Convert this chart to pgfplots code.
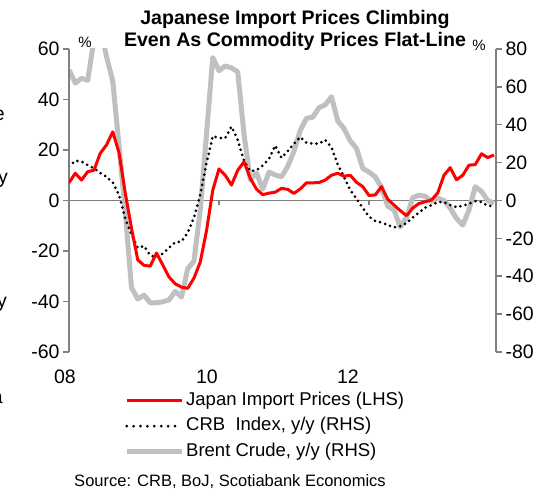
\documentclass[border=0pt]{standalone}
\usepackage{pgfplots}
\usepackage{pgfplotstable}
\pgfplotsset{compat=1.18}
\usepackage{fontspec}
\setmainfont{Liberation Sans}
\definecolor{brentgray}{RGB}{192,192,192}
\definecolor{axgray}{RGB}{128,128,128}

\pgfplotstableread{
m jip crb brent
0 7 18 69
1 10.8 21 62
2 8.1 20.5 64.5
3 11.4 18.7 63.5
4 12 17 85
5 18.7 14.5 92
6 22 12.5 76
7 27.2 9.5 63
8 19 3 29
9 3 -9.5 -6
10 -11 -18 -46
11 -23.5 -25 -52
12 -25.7 -24 -50
13 -26 -29 -54
14 -20.8 -30 -54
15 -25.5 -28 -53.5
16 -30.3 -25 -52.5
17 -33 -22 -48
18 -34.3 -21.7 -51
19 -34.8 -17 -36
20 -30.7 -9 -32
21 -24.4 3 -5
22 -12 19.6 35
23 4 34 75.5
24 12.5 33 68.5
25 10 33 71
26 6.1 39 70
27 12 32 68
28 15.3 21 35
29 8.8 15.5 11
30 4.5 16 14.5
31 2.3 18.5 6
32 2.9 22 15
33 3.3 29 13.5
34 4.8 22.5 12.5
35 4.4 26 18
36 2.8 30 26
37 4.6 33.5 37
38 7 30.5 43.4
39 7 30 44
40 7.1 30 49
41 8.1 32 50.5
42 10 28 54.8
43 10.8 19 42
44 9.6 12.5 38
45 10 5.5 31.5
46 7.2 1 27.5
47 5.5 -4 17
48 2 -8.5 15
49 2.2 -10.8 12.5
50 5.5 -11.6 7
51 0.5 -13 -3
52 -1.8 -14.2 -5
53 -4 -13.5 -14
54 -6 -12 -9
55 -3 -9 1.5
56 -1.2 -6.3 2.8
57 -0.5 -3.8 2.2
58 0.2 -2.5 -0.5
59 3 -0.8 1.2
60 10 -0.8 0
61 13 -2.5 -4
62 8.2 -3.5 -9.5
63 10 -2.8 -13
64 14 -1.7 -5
65 14.2 -0.3 7.3
66 18.5 -0.8 4.8
67 17 -2.8 0
68 18 -3 -1.5
}\data

\pgfplotsset{
  commonax/.style={
    at={(0pt,0pt)}, anchor=south west,
    scale only axis, width=427pt, height=303pt,
    xmin=0, xmax=68.32,
    axis line style={axgray, line width=1.5pt},
    ytick style={axgray, line width=1.5pt},
    tick align=outside, major tick length=6pt,
    tick label style={font=\fontsize{19.5}{22}\selectfont},
    /pgf/number format/assume math mode=true,
  }
}

\begin{document}
\begin{tikzpicture}
\useasboundingbox (-69pt,-140pt) rectangle (486pt,352pt);

% right axis (commodities)
\begin{axis}[commonax,
  ymin=-80, ymax=80,
  axis x line=none, axis y line*=right,
  ytick={-80,-60,...,80},
]
\draw[axgray, line width=1.5pt] (axis cs:0,0) -- (axis cs:68.32,0);
\draw[axgray, line width=1.2pt] (axis cs:24,0) -- ++(0pt,-5pt);
\draw[axgray, line width=1.2pt] (axis cs:48,0) -- ++(0pt,-5pt);
\addplot[brentgray, line width=5pt, line join=round] table[x=m,y=brent]{\data};
\addplot[black, line width=3pt, line cap=round, dash pattern=on 0pt off 5.3pt] table[x=m,y=crb]{\data};
\end{axis}

% left axis (Japan import prices)
\begin{axis}[commonax,
  ymin=-60, ymax=60,
  axis y line*=left, axis x line*=bottom,
  x axis line style={draw=none},
  xtick={0,22.08,44.64}, xticklabels={{\kern-8pt 08},10,12},
  xtick style={draw=none},
  xticklabel style={yshift=-8pt},
  ytick={-60,-40,...,60},
  legend image code/.code={\draw[#1] (0pt,0pt) -- (55pt,0pt);},
  legend style={at={(55pt,-40pt)}, anchor=north west, draw=none, fill=none,
    inner sep=0pt, row sep=8.5pt, column sep=2pt,
    font=\fontsize{18.5}{22}\selectfont,
    nodes={inner sep=0pt, text height=13pt, text depth=4pt},
    cells={anchor=west}},
]
\addplot[red, line width=3pt, line join=round] table[x=m,y=jip]{\data};
\addlegendentry{Japan Import Prices (LHS)}
\addlegendimage{black, line width=3pt, line cap=round, dash pattern=on 0pt off 6.9pt}
\addlegendentry{CRB\ \ Index, y/y (RHS)}
\addlegendimage{brentgray, line width=5pt}
\addlegendentry{Brent Crude, y/y (RHS)}
\end{axis}

\node[font=\bfseries\fontsize{19.6}{22}\selectfont, align=center] at (226pt,322pt)
  {Japanese Import Prices Climbing\\Even As Commodity Prices Flat-Line};
\node[font=\fontsize{15}{18}\selectfont] at (16pt,310pt) {\%};
\node[font=\fontsize{15}{18}\selectfont] at (410pt,307pt) {\%};
\node[font=\fontsize{16.5}{19}\selectfont] at (161pt,-130pt) {Source: CRB, BoJ, Scotiabank Economics};
% cut-off letters at the left edge
\node[font=\fontsize{19.5}{22}\selectfont, anchor=east, inner sep=0pt] at (-64pt,237pt) {e};
\node[font=\fontsize{19.5}{22}\selectfont, anchor=east, inner sep=0pt] at (-61pt,172pt) {y};
\node[font=\fontsize{19.5}{22}\selectfont, anchor=east, inner sep=0pt] at (-62pt,48pt) {y};
\node[font=\fontsize{19.5}{22}\selectfont, anchor=east, inner sep=0pt] at (-66pt,-46pt) {a};
\end{tikzpicture}
\end{document}
